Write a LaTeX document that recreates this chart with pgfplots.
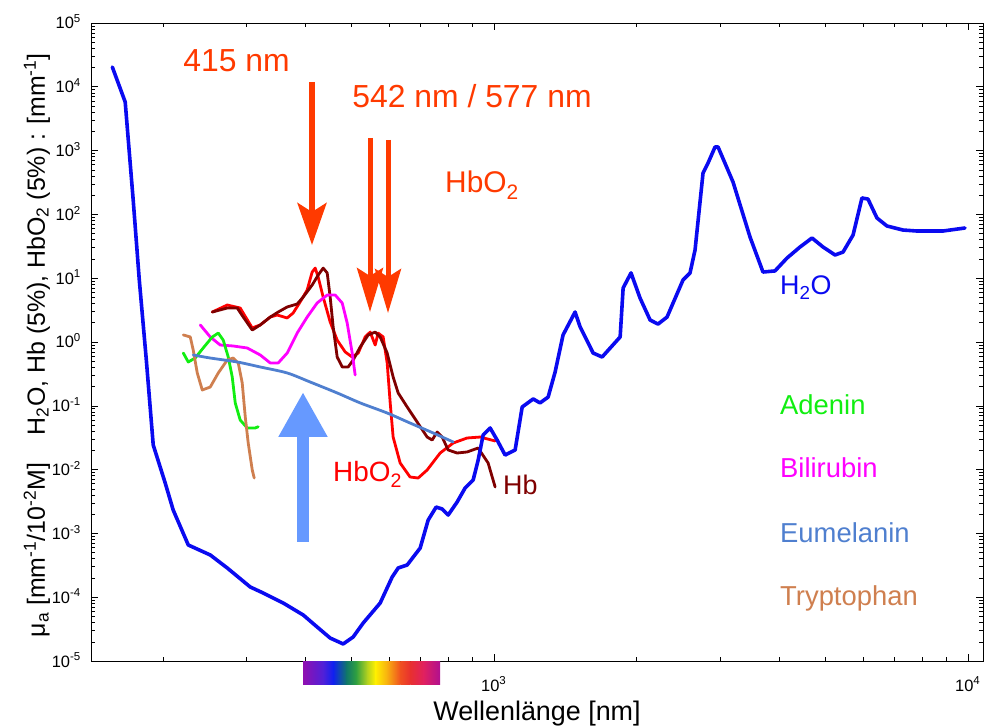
\documentclass[border=0pt]{standalone}
\usepackage{fontspec}
\setmainfont{Liberation Sans}
\usepackage{pgfplots}
\pgfplotsset{compat=1.18}
\usetikzlibrary{arrows.meta}
\definecolor{water}{HTML}{0A0AF0}
\definecolor{hbo}{HTML}{FF0000}
\definecolor{hb}{HTML}{7F0000}
\definecolor{bili}{HTML}{FF00FF}
\definecolor{aden}{HTML}{11EE11}
\definecolor{trp}{HTML}{CF7F4F}
\definecolor{eum}{HTML}{4F7FCF}
\definecolor{annot}{HTML}{FF3A00}
\definecolor{barrow}{HTML}{6699FF}
\definecolor{c0}{HTML}{9010B0}
\definecolor{c1}{HTML}{5020D8}
\definecolor{c2}{HTML}{1020F0}
\definecolor{c3}{HTML}{107868}
\definecolor{c4}{HTML}{30A040}
\definecolor{c5}{HTML}{B0D020}
\definecolor{c6}{HTML}{FFF000}
\definecolor{c7}{HTML}{F8B010}
\definecolor{c8}{HTML}{F05020}
\definecolor{c9}{HTML}{E83030}
\definecolor{c10}{HTML}{E02060}
\definecolor{c11}{HTML}{B01090}
\newcommand{\fs}[1]{\fontsize{#1}{#1}\selectfont}
\begin{document}
\begin{tikzpicture}
\path[use as bounding box] (-91bp,-65bp) rectangle (894bp,661bp);
\begin{axis}[at={(0,0)}, anchor=south west, scale only axis,
  width=892bp, height=638bp,
  xmode=log, ymode=log,
  xmin=141, xmax=10760, ymin=1e-5, ymax=1e5,
  xtick={1000,10000},
  xticklabels={},
  ytick={1e-5,1e-4,1e-3,1e-2,1e-1,1,10,100,1000,10000,100000},
  yticklabels={},
  minor xtick={200,300,400,500,600,700,800,900,2000,3000,4000,5000,6000,7000,8000,9000},
  minor ytick={2e-5,3e-5,4e-5,5e-5,6e-5,7e-5,8e-5,9e-5,
    2e-4,3e-4,4e-4,5e-4,6e-4,7e-4,8e-4,9e-4,
    2e-3,3e-3,4e-3,5e-3,6e-3,7e-3,8e-3,9e-3,
    2e-2,3e-2,4e-2,5e-2,6e-2,7e-2,8e-2,9e-2,
    2e-1,3e-1,4e-1,5e-1,6e-1,7e-1,8e-1,9e-1,
    2,3,4,5,6,7,8,9,20,30,40,50,60,70,80,90,
    200,300,400,500,600,700,800,900,2000,3000,4000,5000,6000,7000,8000,9000,
    20000,30000,40000,50000,60000,70000,80000,90000},
  major tick length=7bp, minor tick length=4bp,
  every tick/.style={black, line width=0.6bp},
  axis line style={line width=0.8bp},
  xlabel={Wellenlänge [nm]},
  xlabel style={font=\fs{27}, at={(axis description cs:0.5,-0.0925)}, anchor=base},
  ylabel={μ\textsubscript{a} [mm\textsuperscript{-1}/10\textsuperscript{-2}M]\hspace{28bp}H\textsubscript{2}O, Hb (5\%), HbO\textsubscript{2} (5\%) : [mm\textsuperscript{-1}]},
  ylabel style={font=\fs{25}, at={(axis description cs:-0.0516,0.495)}, anchor=base},
  every axis plot/.append style={line join=round, line cap=round},
]
\addplot[hbo, line width=2.8bp] coordinates {
(254.2,2.95) (273.4,3.80) (291.1,3.41) (308.7,1.66) (320.9,1.85) (336.9,2.46) (348.5,2.65) (365.8,2.38) (376.6,2.85) (389.6,4.24) (403.1,6.53) (413.0,12.5) (419.2,14.4) (425.3,10.4) (435.7,5.07) (450.8,2.06) (466.4,1.07) (485.0,0.697) (501.7,0.582) (516.6,0.672) (534.4,1.20) (547.5,1.43) (561.0,0.897) (569.2,1.38) (583.2,1.20) (594.7,0.469) (603.5,0.111) (612.2,3.24e-2) (633.4,1.27e-2) (664.7,7.66e-3) (691.4,7.38e-3) (722.2,9.86e-3) (769.4,1.82e-2) (819.5,2.61e-2) (877.0,3.13e-2) (934.4,3.24e-2) (1004.9,2.81e-2)
};
\addplot[hb, line width=2.8bp] coordinates {
(254.2,2.95) (273.4,3.41) (287.0,3.41) (295.5,2.46) (308.7,1.54) (320.9,1.85) (336.9,2.46) (350.2,2.95) (365.8,3.54) (384.0,3.94) (395.5,5.07) (413.0,7.82) (425.3,11.2) (435.7,14.4) (444.3,12.1) (450.8,5.07) (457.4,1.72) (466.4,0.582) (477.9,0.406) (492.0,0.406) (504.1,0.522) (521.6,0.835) (542.3,1.29) (561.0,1.43) (574.8,1.20) (594.7,0.672) (612.2,0.283) (627.3,0.159) (655.4,9.58e-2) (688.0,5.57e-2) (722.2,3.24e-2) (740.0,2.91e-2) (758.2,3.88e-2) (776.9,3.24e-2) (799.9,2.03e-2) (835.5,1.82e-2) (877.0,1.89e-2) (925.3,2.18e-2) (971.2,1.27e-2) (1004.9,5.34e-3)
};
\addplot[bili, line width=2.8bp] coordinates {
(239.8,1.85) (251.7,1.20) (264.2,0.897) (281.4,0.866) (301.3,0.805) (320.9,0.626) (336.9,0.469) (350.2,0.469) (365.8,0.672) (384.0,1.38) (403.1,2.46) (423.2,4.09) (444.3,5.45) (461.9,5.45) (477.9,4.09) (489.6,1.99) (501.7,0.672) (509.0,0.304)
};
\addplot[aden, line width=2.8bp] coordinates {
(220.8,0.672) (226.2,0.486) (233.9,0.561) (243.2,0.805) (254.2,1.20) (261.7,1.38) (268.1,1.07) (274.7,0.582) (280.1,0.283) (284.2,0.111) (291.1,5.99e-2) (301.3,4.49e-2) (313.2,4.49e-2) (317.8,4.7e-2)
};
\addplot[trp, line width=2.8bp] coordinates {
(220.8,1.29) (228.4,1.20) (231.7,0.749) (236.3,0.327) (242.1,0.177) (251.7,0.197) (261.7,0.327) (273.4,0.522) (281.4,0.561) (288.4,0.469) (294.0,0.228) (298.4,6.67e-2) (302.7,2.61e-2) (308.7,9.86e-3) (311.7,7.38e-3)
};
\addplot[eum, line width=2.8bp, smooth, tension=0.5] coordinates {
(231.7,0.626) (251.7,0.561) (287.0,0.486) (320.9,0.406) (365.8,0.327) (409.0,0.236) (466.4,0.159) (521.6,0.111) (594.7,7.71e-2) (664.7,5.37e-2) (743.6,3.75e-2) (819.5,2.71e-2)
};
\addplot[water, line width=3.6bp] coordinates {
(156.4,2.04e4) (166.5,5.78e3) (169,1.47e3) (173.1,168) (178.3,9.37) (184.5,0.522) (190.8,0.0243) (202.2,6.17e-3) (210.2,2.33e-3) (226.2,6.58e-4) (251.7,4.59e-4) (273.4,2.87e-4) (305.7,1.445e-4) (325.6,1.163e-4) (358.8,8.11e-5) (395.5,5.26e-5) (423.2,3.41e-5) (450.8,2.29e-5) (480.2,1.85e-5) (504.1,2.38e-5) (529.2,3.94e-5) (574.8,8.11e-5) (609.3,2.07e-4) (627.3,2.87e-4) (655.4,3.20e-4) (698.2,5.90e-4) (725.9,1.62e-3) (754.5,2.59e-3) (776.9,2.41e-3) (799.9,1.94e-3) (835.5,3.11e-3) (868.6,5.15e-3) (903.1,6.87e-3) (925.3,1.41e-2) (948.1,3.49e-2) (980.8,4.49e-2) (1014.6,2.91e-2) (1054.8,1.69e-2) (1107.5,2.03e-2) (1146,9.58e-2) (1209,0.128) (1250,0.111) (1300,0.137) (1345,0.339) (1398,1.29) (1482,2.95) (1519,1.72) (1618,0.672) (1690,0.582) (1845,1.20) (1872,7.02) (1945,12.1) (2032,4.89) (2134,2.21) (2218,1.91) (2317,2.46) (2504,9.37) (2591,12.1) (2655,27.7) (2760,445) (2828,639) (2926,1139) (2969,1139) (3193,322) (3468,44.2) (3694,12.5) (3915,13.0) (4151,20.7) (4421,30.8) (4687,42.7) (4945,30.8) (5242,23.1) (5450,25.7) (5722,47.5) (5975,181) (6152,174) (6427,87.8) (6746,65.8) (7293,56.9) (7806,54.9) (8857,54.9) (9856,61.2)
};
\end{axis}
% tick labels
\begin{scope}[every node/.style={inner sep=0pt, font=\fs{16.5}}]
\foreach \k/\yy in {-5/0,-4/63.8,-3/127.6,-2/191.4,-1/255.2,0/319,1/382.8,2/446.6,3/510.4,4/574.2,5/638}
  \node[anchor=base east] at (-10bp,\yy bp-6bp) {10\textsuperscript{\k}};
\node[anchor=base west] at (390bp,-30bp) {10\textsuperscript{3}};
\node[anchor=base west] at (864bp,-30bp) {10\textsuperscript{4}};
\end{scope}
% colour bar of the visible spectrum
\shade[left color=c0,right color=c1] (212bp,-23bp) rectangle (232.3bp,-0.6bp);
\shade[left color=c1,right color=c2] (232bp,-23bp) rectangle (242.3bp,-0.6bp);
\shade[left color=c2,right color=c3] (242bp,-23bp) rectangle (255.8bp,-0.6bp);
\shade[left color=c3,right color=c4] (255.5bp,-23bp) rectangle (265.3bp,-0.6bp);
\shade[left color=c4,right color=c5] (265bp,-23bp) rectangle (276.1bp,-0.6bp);
\shade[left color=c5,right color=c6] (275.8bp,-23bp) rectangle (284.5bp,-0.6bp);
\shade[left color=c6,right color=c7] (284.2bp,-23bp) rectangle (296.3bp,-0.6bp);
\shade[left color=c7,right color=c8] (296bp,-23bp) rectangle (309.6bp,-0.6bp);
\shade[left color=c8,right color=c9] (309.3bp,-23bp) rectangle (319.7bp,-0.6bp);
\shade[left color=c9,right color=c10] (319.4bp,-23bp) rectangle (332.9bp,-0.6bp);
\shade[left color=c10,right color=c11] (332.6bp,-23bp) rectangle (349bp,-0.6bp);
% arrows
\draw[annot, line width=5.5bp, -{Stealth[length=42bp, width=29bp, inset=9bp]}] (221bp,579bp) -- (221bp,416bp);
\draw[annot, line width=5bp, -{Stealth[length=44bp, width=26bp, inset=8bp]}] (279bp,523bp) -- (279bp,349bp);
\draw[annot, line width=5bp, -{Stealth[length=44bp, width=26bp, inset=8bp]}] (297bp,521bp) -- (297bp,348bp);
\draw[barrow, line width=12bp, -{Triangle[length=45bp, width=46bp]}] (212bp,119bp) -- (212bp,269bp);
% texts
\begin{scope}[every node/.style={inner sep=0pt}]
\node[annot, font=\fs{32}, anchor=base] at (145.5bp,589bp) {415 nm};
\node[annot, font=\fs{32}, anchor=base] at (381bp,553bp) {542 nm / 577 nm};
\node[annot, font=\fs{30}, anchor=base west] at (354bp,468bp) {HbO\textsubscript{2}};
\node[water, font=\fs{27}, anchor=base west] at (689bp,366bp) {H\textsubscript{2}O};
\node[aden, font=\fs{27.5}, anchor=base west] at (689bp,246bp) {Adenin};
\node[bili, font=\fs{27.5}, anchor=base west] at (689bp,183bp) {Bilirubin};
\node[eum, font=\fs{27.5}, anchor=base west] at (689bp,118bp) {Eumelanin};
\node[trp, font=\fs{27.5}, anchor=base west] at (689bp,55bp) {Tryptophan};
\node[hbo, font=\fs{28}, anchor=base west] at (242bp,179bp) {HbO\textsubscript{2}};
\node[hb, font=\fs{27}, anchor=base west] at (412bp,166bp) {Hb};
\end{scope}
\end{tikzpicture}
\end{document}
